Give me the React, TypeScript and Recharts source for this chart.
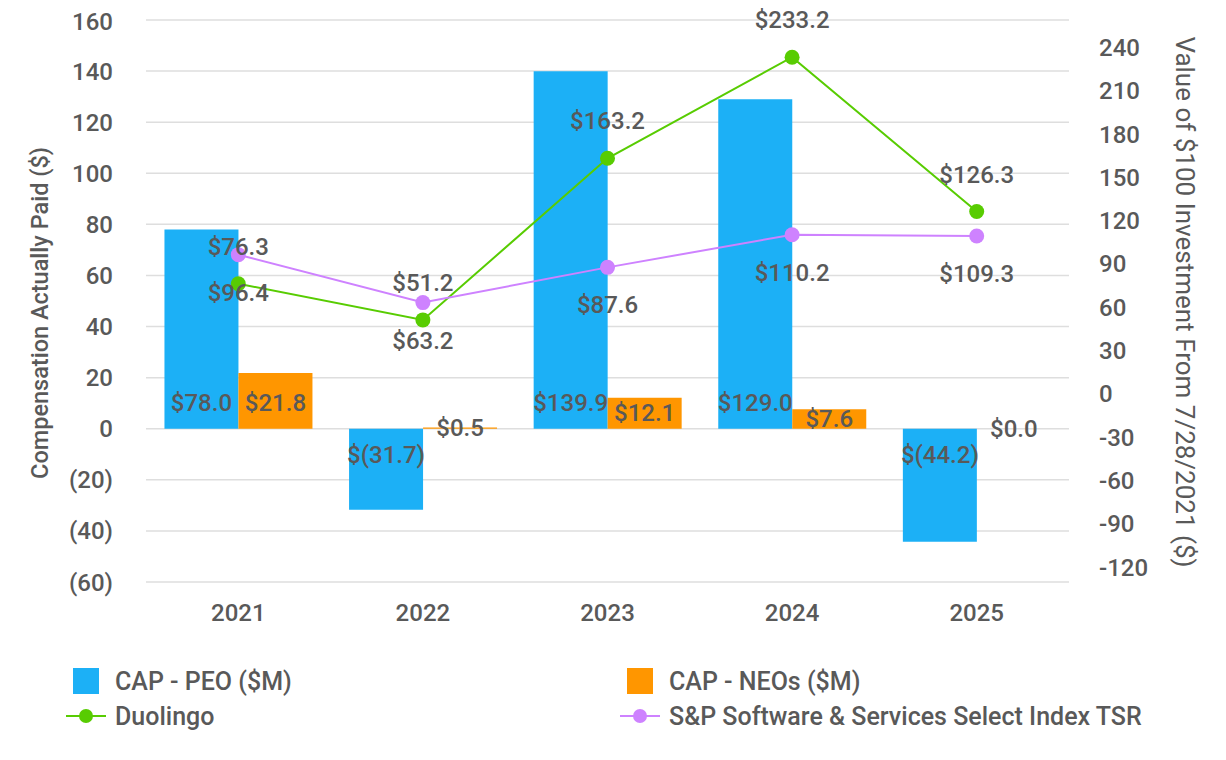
import {
  ComposedChart,
  Bar,
  Line,
  XAxis,
  YAxis,
  CartesianGrid,
  Legend,
  LabelList,
  Label,
} from "recharts";

const years = ["2021", "2022", "2023", "2024", "2025"];
const capPeo = [78.0, -31.7, 139.9, 129.0, -44.2];
const capNeos = [21.8, 0.5, 12.1, 7.6, 0.0];
const duolingoTsr = [76.3, 51.2, 163.2, 233.2, 126.3];
const spTsr = [96.4, 63.2, 87.6, 110.2, 109.3];

const leftTicks = [-60, -40, -20, 0, 20, 40, 60, 80, 100, 120, 140, 160];
const rightTicks = [-120, -90, -60, -30, 0, 30, 60, 90, 120, 150, 180, 210, 240];

const BLUE = "#1CB0F6";
const ORANGE = "#FF9600";
const GREEN = "#58CC02";
const PURPLE = "#CE82FF";
const TEXT = "#595959";
const FONT = 24;
const WEIGHT = 500;

const data = years.map((year, i) => ({
  year,
  peo: capPeo[i],
  neos: capNeos[i],
  duolingo: duolingoTsr[i],
  sp: spTsr[i],
}));

const legendItems = [
  { name: "CAP - PEO ($M)", color: BLUE, kind: "bar" },
  { name: "CAP - NEOs ($M)", color: ORANGE, kind: "bar" },
  { name: "Duolingo", color: GREEN, kind: "line" },
  { name: "S&P Software & Services Select Index TSR", color: PURPLE, kind: "line" },
];

const money = (v: number) =>
  v < 0 ? `$(${Math.abs(v).toFixed(1)})` : `$${v.toFixed(1)}`;

const leftFmt = (v: number) => (v < 0 ? `(${-v})` : `${v}`);

// bar values sit just inside the base, or in the middle when the bar is short
const BarValue = (props: any) => {
  const box = props.viewBox ?? props;
  const { x, y, width, height } = box;
  const value = Number(props.value);
  const top = Math.min(y, y + height);
  const bottom = Math.max(y, y + height);
  const h = bottom - top;
  const cy = value >= 0 ? bottom - Math.min(26, h / 2) : top + Math.min(26, h / 2);
  return (
    <text
      x={x + width / 2}
      y={cy}
      textAnchor="middle"
      dominantBaseline="central"
      fill={TEXT}
      fontSize={FONT}
      fontWeight={WEIGHT}
    >
      {money(value)}
    </text>
  );
};

const lineValue = (dy: number) => (props: any) => {
  const x = props.x ?? props.viewBox?.x;
  const y = props.y ?? props.viewBox?.y;
  return (
    <text
      x={x}
      y={y + dy}
      textAnchor="middle"
      dominantBaseline="central"
      fill={TEXT}
      fontSize={FONT}
      fontWeight={WEIGHT}
    >
      {money(Number(props.value))}
    </text>
  );
};

const axisTitle =
  (text: string, dx: number, dy: number, angle: number, size: number, weight: number) =>
  (props: any) => {
    const vb = props.viewBox;
    const cx = vb.x + dx;
    const cy = vb.y + vb.height / 2 + dy;
    return (
      <text
        x={cx}
        y={cy}
        transform={`rotate(${angle}, ${cx}, ${cy})`}
        textAnchor="middle"
        dominantBaseline="central"
        fill={TEXT}
        fontSize={size}
        fontWeight={weight}
      >
        {text}
      </text>
    );
  };

const LegendBox = () => {
  const cols = [0, 554];
  return (
    <div
      style={{
        position: "relative",
        width: 1210,
        height: 80,
        color: TEXT,
        fontSize: 25,
        fontWeight: WEIGHT,
      }}
    >
      {legendItems.map((item, i) => {
        const left = cols[i % 2];
        const top = Math.floor(i / 2) * 35;
        return (
          <div
            key={item.name}
            style={{
              position: "absolute",
              left: left + 58,
              top,
              height: 34,
              display: "flex",
              alignItems: "center",
              whiteSpace: "nowrap",
            }}
          >
            {item.kind === "bar" ? (
              <span
                style={{
                  display: "inline-block",
                  width: 26,
                  height: 26,
                  marginLeft: 7,
                  marginRight: 16,
                  background: item.color,
                }}
              />
            ) : (
              <svg width={40} height={20} style={{ marginRight: 9 }}>
                <line x1={0} y1={10} x2={40} y2={10} stroke={item.color} strokeWidth={2} />
                <circle cx={20} cy={10} r={7} fill={item.color} />
              </svg>
            )}
            <span>{item.name}</span>
          </div>
        );
      })}
    </div>
  );
};

export default function App() {
  return (
    <div style={{ fontFamily: "Roboto, 'Noto Sans', sans-serif" }}>
      <ComposedChart
        width={1210}
        height={744}
        data={data}
        margin={{ top: 12, right: 0, bottom: 110, left: 0 }}
        barCategoryGap="10%"
        barGap={0}
        style={{ overflow: "visible" }}
      >
        <CartesianGrid yAxisId="left" vertical={false} stroke="#dedede" strokeWidth={1.5} />
        <XAxis
          dataKey="year"
          axisLine={false}
          tickLine={false}
          tickMargin={16}
          height={60}
          tick={{ fill: TEXT, fontSize: FONT, fontWeight: WEIGHT }}
        />
        <YAxis
          yAxisId="left"
          width={138}
          domain={[-60, 160]}
          ticks={leftTicks}
          tickFormatter={leftFmt}
          axisLine={false}
          tickLine={false}
          tickMargin={27}
          tick={{ fill: TEXT, fontSize: FONT, fontWeight: WEIGHT }}
        >
          <Label
            content={axisTitle("Compensation Actually Paid ($)", 32, 12, -90, 23.5, WEIGHT)}
          />
        </YAxis>
        <YAxis
          yAxisId="right"
          orientation="right"
          width={149}
          domain={[-130.4, 259]}
          ticks={rightTicks}
          axisLine={false}
          tickLine={false}
          tickMargin={24}
          tick={{ fill: TEXT, fontSize: FONT, fontWeight: WEIGHT, textAnchor: "start" }}
        >
          <Label
            content={axisTitle(
              "Value of $100 Investment From 7/28/2021 ($)",
              116,
              1,
              90,
              26,
              400
            )}
          />
        </YAxis>
        <Bar yAxisId="left" dataKey="peo" name="CAP - PEO ($M)" fill={BLUE} isAnimationActive={false}>
          <LabelList dataKey="peo" content={BarValue} />
        </Bar>
        <Bar
          yAxisId="left"
          dataKey="neos"
          name="CAP - NEOs ($M)"
          fill={ORANGE}
          minPointSize={0.01}
          isAnimationActive={false}
        >
          <LabelList dataKey="neos" content={BarValue} />
        </Bar>
        <Line
          yAxisId="right"
          dataKey="duolingo"
          name="Duolingo"
          stroke={GREEN}
          strokeWidth={2}
          dot={{ r: 7.5, fill: GREEN, stroke: GREEN, strokeWidth: 0 }}
          activeDot={false}
          isAnimationActive={false}
        >
          <LabelList dataKey="duolingo" content={lineValue(-37)} />
        </Line>
        <Line
          yAxisId="right"
          dataKey="sp"
          name="S&P Software & Services Select Index TSR"
          stroke={PURPLE}
          strokeWidth={2}
          dot={{ r: 7.5, fill: PURPLE, stroke: PURPLE, strokeWidth: 0 }}
          activeDot={false}
          isAnimationActive={false}
        >
          <LabelList dataKey="sp" content={lineValue(38)} />
        </Line>
        <Legend
          layout="horizontal"
          align="center"
          verticalAlign="middle"
          wrapperStyle={{ top: 656, left: 0, width: 1210 }}
          content={() => <LegendBox />}
        />
      </ComposedChart>
    </div>
  );
}
